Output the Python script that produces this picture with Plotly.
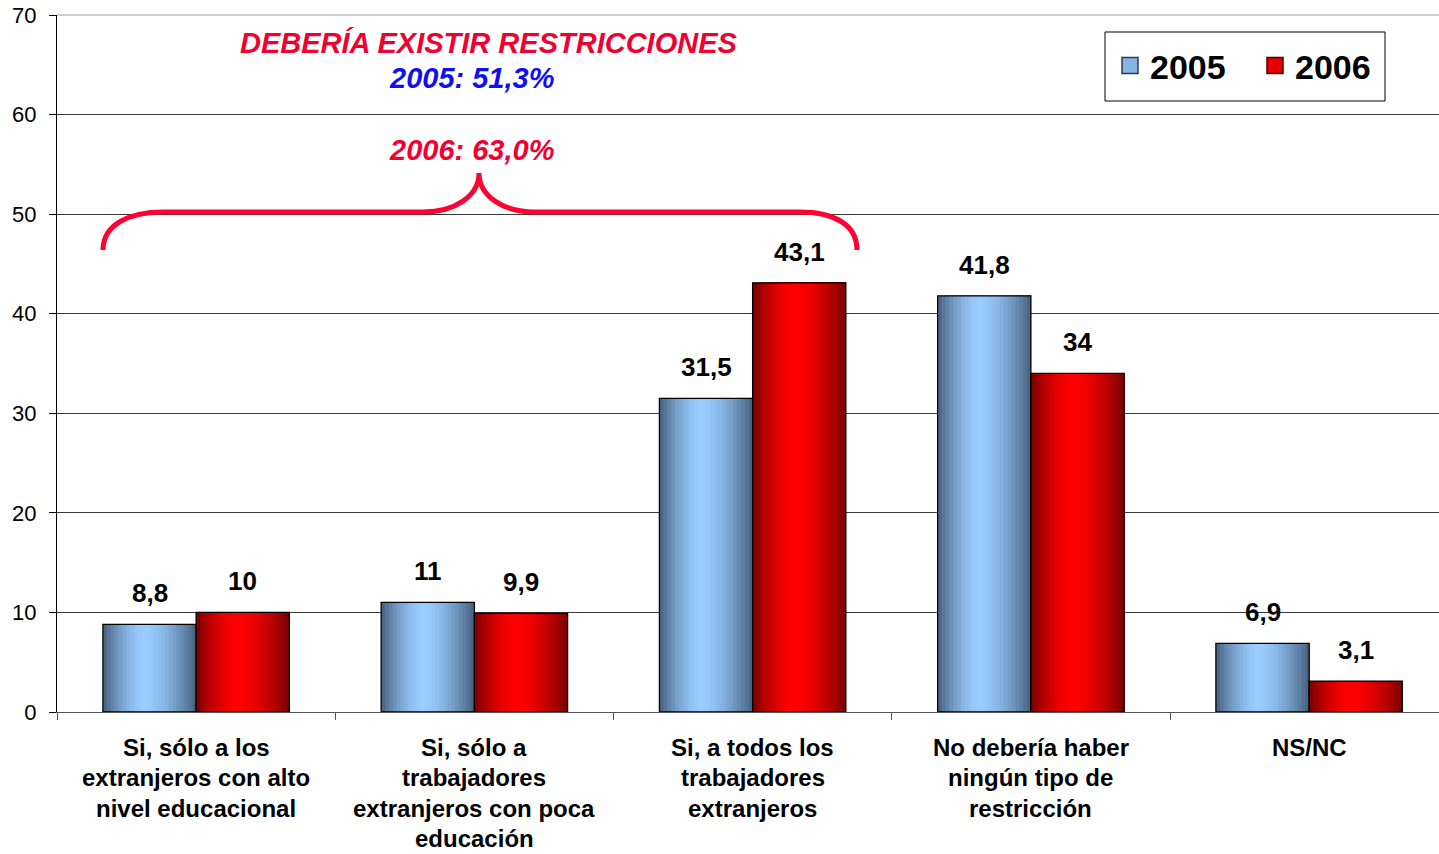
import plotly.graph_objects as go

# ---------------- data ----------------
cat_lines = [
    ["Si, sólo a los", "extranjeros con alto", "nivel educacional"],
    ["Si, sólo a", "trabajadores", "extranjeros con poca", "educación"],
    ["Si, a todos los", "trabajadores", "extranjeros"],
    ["No debería haber", "ningún tipo de", "restricción"],
    ["NS/NC"],
]
series_names = ["2005", "2006"]
v2005 = [8.8, 11, 31.5, 41.8, 6.9]
v2006 = [10, 9.9, 43.1, 34, 3.1]
y_ticks = [0, 10, 20, 30, 40, 50, 60, 70]
head_title = "DEBERÍA EXISTIR RESTRICCIONES"
head_2005 = "2005: 51,3%"
head_2006 = "2006: 63,0%"

# ---------------- layout constants ----------------
W, H = 1439, 854
ML, MR, MT, MB = 57, 0, 15, 142
PW, PH = W - ML - MR, H - MT - MB
FONT = "Liberation Sans, Arial, sans-serif"
RED_TXT = "#f00030"
BLUE_TXT = "#1010ee"
CAT_PX = 278.25     # pixel width of one category in the reference

xs = list(range(len(cat_lines)))
bw = 0.335          # width of one bar in category units
N = 24              # gradient strips per bar


def fmt(v):
    return f"{v:g}".replace(".", ",")


def grad(t, dark, light, peak=0.45, p=1.6):
    d = (peak - t) / peak if t < peak else (t - peak) / (1 - peak)
    f = max(0.0, 1 - d ** p)
    return "rgb({},{},{})".format(*[round(a + (b - a) * f) for a, b in zip(dark, light)])


BLUE_DARK, BLUE_LIGHT = (70, 95, 125), (153, 204, 255)
RED_DARK, RED_LIGHT = (120, 0, 0), (255, 0, 0)

fig = go.Figure()

for vals, base, dark, light in [(v2005, -bw, BLUE_DARK, BLUE_LIGHT),
                                (v2006, 0.0, RED_DARK, RED_LIGHT)]:
    sw = bw / N
    for i in range(N):
        t = (i + 0.5) / N
        # each strip runs to the bar's right edge; later strips cover earlier ones (no seams)
        fig.add_trace(go.Bar(
            x=xs, y=vals, width=bw - i * sw, offset=base + i * sw,
            marker=dict(color=grad(t, dark, light), line=dict(width=0)),
            showlegend=False, hoverinfo="skip"))
    # outline on top
    fig.add_trace(go.Bar(
        x=xs, y=vals, width=bw, offset=base,
        marker=dict(color="rgba(0,0,0,0)", line=dict(color="black", width=1.3)),
        showlegend=False, hovertemplate="%{y}<extra></extra>"))

# legend proxies
for name, col, lc in [(series_names[0], "#86b4e6", "#2b3d52"), (series_names[1], "#e80000", "#4a0000")]:
    fig.add_trace(go.Scatter(
        x=[None], y=[None], mode="markers", name=f"<b>{name}</b>",
        marker=dict(symbol="square", size=16, color=col, line=dict(color=lc, width=1.5))))

# data labels
for vals, dx in [(v2005, -bw / 2), (v2006, bw / 2)]:
    for x, v in zip(xs, vals):
        fig.add_annotation(x=x + dx, y=v, xref="x", yref="y", text=f"<b>{fmt(v)}</b>",
                           showarrow=False, yanchor="middle", yshift=31,
                           font=dict(family=FONT, size=26, color="black"))

# category labels (one annotation per line for the wide line spacing)
for x, lines in zip(xs, cat_lines):
    for j, line in enumerate(lines):
        fig.add_annotation(x=x, y=0, xref="x", yref="paper", text=f"<b>{line}</b>",
                           showarrow=False, yanchor="middle", yshift=-(35 + 30.5 * j),
                           borderpad=0,
                           font=dict(family=FONT, size=24, color="black"))


def px2paper(px, py):
    return (px - ML) / PW, (H - MB - py) / PH


# headings
for txt, col, (px, py) in [(head_title, RED_TXT, (489, 43)),
                           (head_2005, BLUE_TXT, (471, 78)),
                           (head_2006, RED_TXT, (471, 150))]:
    ax, ay = px2paper(px, py)
    fig.add_annotation(x=ax, y=ay, xref="paper", yref="paper", text=f"<b><i>{txt}</i></b>",
                       showarrow=False, xanchor="center", yanchor="middle",
                       font=dict(family=FONT, size=29, color=col))

# brace
pts = [("M", [(103, 250)]),
       ("C", [(103, 224), (130, 212), (163, 212)]),
       ("L", [(423, 212)]),
       ("C", [(455, 212), (479, 196), (479, 173)]),
       ("C", [(479, 196), (503, 212), (535, 212)]),
       ("L", [(800, 212)]),
       ("C", [(833, 212), (857, 224), (857, 250)])]
path = ""
for cmd, ps in pts:
    path += cmd + " ".join("{:.5f},{:.5f}".format(*px2paper(a, b)) for a, b in ps) + " "
fig.add_shape(type="path", path=path.strip(), xref="paper", yref="paper",
              line=dict(color="#ff0030", width=5))

# grey top border at 70
fig.add_shape(type="line", xref="paper", yref="paper", x0=0, x1=1, y0=1, y1=1,
              line=dict(color="#a0a0a0", width=1))

# legend frame
lx0, ly0 = px2paper(1105, 101)
lx1, ly1 = px2paper(1385, 32)
fig.add_shape(type="rect", xref="paper", yref="paper", x0=lx0, x1=lx1, y0=ly0, y1=ly1,
              fillcolor="white", line=dict(color="black", width=1), layer="above")

x_hi = -0.5 + PW / CAT_PX

fig.update_layout(
    width=W, height=H,
    margin=dict(l=ML, r=MR, t=MT, b=MB, pad=0),
    paper_bgcolor="white", plot_bgcolor="white",
    barmode="overlay",
    font=dict(family=FONT, color="black"),
    showlegend=True,
    legend=dict(orientation="h", x=px2paper(1110, 0)[0], y=px2paper(0, 37)[1],
                xanchor="left", yanchor="top",
                bgcolor="rgba(0,0,0,0)", borderwidth=0,
                font=dict(family=FONT, size=34, color="black"),
                itemwidth=30, entrywidth=100, entrywidthmode="pixels",
                title=None),
    xaxis=dict(range=[-0.5, x_hi], tickvals=[-0.5, 0.5, 1.5, 2.5, 3.5, 4.5],
               showticklabels=False, ticks="outside", ticklen=7, tickcolor="#555",
               showgrid=False, zeroline=False, showline=True, linecolor="#555", linewidth=1,
               fixedrange=True),
    yaxis=dict(range=[0, 70], tickvals=y_ticks, ticks="outside", ticklen=7, tickcolor="black",
               ticklabelstandoff=8,
               tickfont=dict(family=FONT, size=22, color="black"),
               showgrid=True, gridcolor="#3a3a3a", gridwidth=1, zeroline=False,
               showline=True, linecolor="black", linewidth=1, fixedrange=True),
)

fig.write_html("out.html", post_script="document.body.style.margin='0';",
               config={"displayModeBar": False})
